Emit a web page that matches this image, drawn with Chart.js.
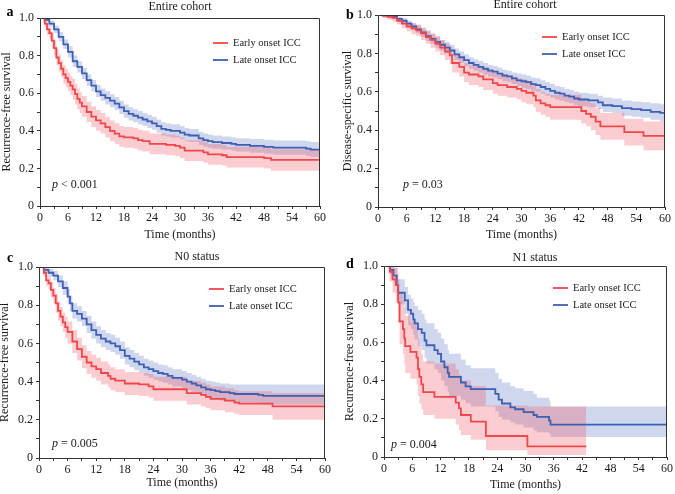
<!DOCTYPE html>
<html>
<head>
<meta charset="utf-8">
<script src="https://cdn.jsdelivr.net/npm/chart.js@4/dist/chart.umd.min.js"></script>
<style>
  body { margin: 0; background: #fff; }
  #fig { position: relative; width: 675px; height: 494px; }
  #fig canvas { position: absolute; }
</style>
</head>
<body>
<div id="fig">
  <canvas id="pa" width="337" height="247" style="left:0;top:0"></canvas>
  <canvas id="pb" width="338" height="247" style="left:337px;top:0"></canvas>
  <canvas id="pc" width="337" height="247" style="left:0;top:247px"></canvas>
  <canvas id="pd" width="338" height="247" style="left:337px;top:247px"></canvas>
</div>
<script>
// rows: [month, survival, lower CI, upper CI]
const seriesNames = ["Early onset ICC", "Late onset ICC"];
const xTicks = [0, 6, 12, 18, 24, 30, 36, 42, 48, 54, 60];
const yTicks = [0, 0.2, 0.4, 0.6, 0.8, 1.0];

// a: entire cohort, recurrence-free
const aEarly = [
  [0, 1, 1, 1], [1, 0.97, 0.95, 0.99], [1.5, 0.94, 0.91, 0.97], [2, 0.92, 0.89, 0.95],
  [2.5, 0.88, 0.84, 0.92], [3, 0.84, 0.80, 0.88], [3.5, 0.79, 0.75, 0.835], [4, 0.76, 0.715, 0.805],
  [4.5, 0.73, 0.685, 0.775], [5, 0.70, 0.65, 0.75], [5.5, 0.68, 0.63, 0.73], [6, 0.66, 0.61, 0.71],
  [6.5, 0.64, 0.59, 0.69], [7, 0.62, 0.565, 0.675], [7.5, 0.595, 0.54, 0.65], [8, 0.57, 0.515, 0.625],
  [8.5, 0.55, 0.495, 0.605], [9, 0.53, 0.475, 0.585], [10, 0.50, 0.445, 0.555], [11, 0.475, 0.42, 0.53],
  [12, 0.455, 0.40, 0.51], [13, 0.44, 0.385, 0.495], [14, 0.42, 0.365, 0.475], [15, 0.40, 0.345, 0.455],
  [16, 0.385, 0.33, 0.44], [17, 0.37, 0.315, 0.425], [18, 0.365, 0.31, 0.42], [20, 0.36, 0.305, 0.415],
  [21, 0.35, 0.295, 0.405], [22, 0.345, 0.29, 0.40], [23.5, 0.33, 0.275, 0.385], [27, 0.325, 0.27, 0.38],
  [29, 0.32, 0.265, 0.375], [30, 0.31, 0.255, 0.365], [31, 0.295, 0.24, 0.35], [35, 0.285, 0.23, 0.34],
  [36, 0.275, 0.22, 0.33], [39, 0.27, 0.215, 0.325], [40, 0.26, 0.205, 0.315], [48, 0.255, 0.20, 0.31],
  [49.5, 0.245, 0.188, 0.302], [60, 0.245, 0.188, 0.302]
];
const aLate = [
  [0, 1, 1, 1], [1, 0.99, 0.98, 1], [2, 0.97, 0.955, 0.985], [3, 0.94, 0.92, 0.96],
  [4, 0.90, 0.875, 0.925], [5, 0.86, 0.835, 0.885], [6, 0.82, 0.79, 0.85], [7, 0.77, 0.74, 0.80],
  [8, 0.74, 0.71, 0.77], [9, 0.705, 0.675, 0.735], [10, 0.67, 0.64, 0.70], [11, 0.64, 0.61, 0.67],
  [12, 0.61, 0.58, 0.645], [13, 0.59, 0.56, 0.625], [14, 0.575, 0.54, 0.61], [15, 0.56, 0.525, 0.595],
  [16, 0.545, 0.51, 0.58], [17, 0.525, 0.49, 0.56], [18, 0.505, 0.47, 0.54], [19, 0.49, 0.455, 0.525],
  [20, 0.48, 0.445, 0.515], [21, 0.47, 0.435, 0.505], [22, 0.46, 0.425, 0.495], [23, 0.45, 0.415, 0.485],
  [24, 0.44, 0.405, 0.475], [25, 0.425, 0.39, 0.46], [26, 0.41, 0.375, 0.445], [27, 0.405, 0.37, 0.44],
  [28, 0.40, 0.365, 0.435], [30, 0.39, 0.355, 0.425], [31, 0.38, 0.345, 0.415], [32, 0.375, 0.34, 0.41],
  [34, 0.36, 0.325, 0.395], [35, 0.35, 0.315, 0.385], [36, 0.345, 0.31, 0.38], [37, 0.34, 0.305, 0.375],
  [39, 0.335, 0.30, 0.37], [41, 0.33, 0.295, 0.365], [42, 0.325, 0.29, 0.36], [45, 0.32, 0.283, 0.357],
  [48, 0.315, 0.278, 0.352], [50, 0.31, 0.272, 0.348], [57, 0.305, 0.266, 0.344], [58, 0.30, 0.26, 0.34],
  [60, 0.30, 0.26, 0.34]
];

// b: entire cohort, disease-specific
const bEarly = [
  [0, 1, 1, 1], [1, 0.995, 0.985, 1], [2, 0.99, 0.975, 1], [3, 0.985, 0.965, 0.995],
  [4, 0.97, 0.95, 0.985], [5, 0.955, 0.93, 0.975], [6, 0.94, 0.915, 0.965], [7, 0.93, 0.90, 0.955],
  [8, 0.92, 0.89, 0.95], [9, 0.905, 0.87, 0.935], [10, 0.885, 0.85, 0.92], [11, 0.87, 0.83, 0.905],
  [12, 0.85, 0.81, 0.89], [13, 0.83, 0.79, 0.87], [14, 0.81, 0.765, 0.85], [15, 0.79, 0.745, 0.835],
  [15.5, 0.75, 0.70, 0.80], [17, 0.73, 0.68, 0.78], [18, 0.70, 0.65, 0.75], [19, 0.69, 0.635, 0.74],
  [21, 0.68, 0.625, 0.735], [22, 0.665, 0.61, 0.72], [24, 0.645, 0.59, 0.70], [25, 0.635, 0.58, 0.69],
  [27, 0.625, 0.57, 0.68], [29, 0.615, 0.56, 0.67], [30, 0.605, 0.545, 0.665], [31, 0.595, 0.535, 0.655],
  [32.5, 0.58, 0.52, 0.64], [33, 0.555, 0.495, 0.615], [34, 0.54, 0.48, 0.60], [35, 0.53, 0.47, 0.59],
  [36, 0.52, 0.455, 0.585], [42.5, 0.50, 0.435, 0.565], [43.5, 0.485, 0.42, 0.55], [44.5, 0.47, 0.40, 0.54],
  [45.5, 0.445, 0.375, 0.515], [46.5, 0.42, 0.35, 0.49], [51.5, 0.39, 0.32, 0.46], [55.5, 0.37, 0.295, 0.445],
  [60, 0.37, 0.295, 0.445]
];
const bLate = [
  [0, 1, 1, 1], [2, 0.995, 0.99, 1], [3, 0.99, 0.98, 1], [4, 0.98, 0.97, 0.99],
  [5, 0.97, 0.955, 0.985], [6, 0.955, 0.94, 0.97], [7, 0.94, 0.92, 0.96], [8, 0.925, 0.905, 0.945],
  [9, 0.91, 0.885, 0.93], [10, 0.89, 0.865, 0.915], [11, 0.875, 0.85, 0.90], [12, 0.86, 0.83, 0.885],
  [13, 0.845, 0.815, 0.87], [14, 0.83, 0.80, 0.86], [15, 0.815, 0.785, 0.845], [16, 0.795, 0.765, 0.825],
  [17, 0.78, 0.75, 0.81], [18, 0.765, 0.735, 0.795], [19, 0.75, 0.72, 0.78], [20, 0.74, 0.71, 0.77],
  [21, 0.73, 0.70, 0.76], [22, 0.72, 0.69, 0.75], [23, 0.71, 0.68, 0.74], [24, 0.705, 0.675, 0.735],
  [25, 0.695, 0.665, 0.725], [26, 0.685, 0.655, 0.715], [27, 0.68, 0.65, 0.71], [28, 0.67, 0.64, 0.70],
  [29, 0.66, 0.63, 0.695], [30, 0.655, 0.62, 0.69], [31, 0.65, 0.615, 0.685], [32, 0.64, 0.605, 0.675],
  [33, 0.635, 0.60, 0.67], [34, 0.625, 0.59, 0.66], [35, 0.615, 0.58, 0.65], [36, 0.605, 0.57, 0.64],
  [37, 0.595, 0.56, 0.63], [38, 0.59, 0.555, 0.625], [39, 0.58, 0.545, 0.615], [40, 0.575, 0.54, 0.61],
  [41, 0.565, 0.53, 0.60], [42, 0.56, 0.525, 0.595], [44, 0.555, 0.52, 0.59], [46, 0.545, 0.51, 0.58],
  [47, 0.53, 0.495, 0.57], [49, 0.525, 0.49, 0.565], [51, 0.515, 0.475, 0.555], [53, 0.51, 0.47, 0.55],
  [55, 0.505, 0.465, 0.545], [57, 0.495, 0.455, 0.54], [59, 0.49, 0.445, 0.535], [60, 0.49, 0.445, 0.535]
];

// c: N0 status, recurrence-free
const cEarly = [
  [0, 1, 1, 1], [1, 0.97, 0.95, 0.99], [1.5, 0.93, 0.90, 0.96], [2, 0.915, 0.88, 0.95],
  [2.5, 0.88, 0.84, 0.92], [3, 0.85, 0.81, 0.89], [3.5, 0.81, 0.76, 0.86], [4, 0.77, 0.72, 0.82],
  [4.5, 0.74, 0.69, 0.79], [5, 0.71, 0.66, 0.76], [5.5, 0.685, 0.63, 0.74], [6, 0.66, 0.60, 0.715],
  [7, 0.61, 0.55, 0.67], [8, 0.57, 0.51, 0.63], [9, 0.53, 0.47, 0.59], [10, 0.50, 0.44, 0.56],
  [11, 0.48, 0.42, 0.54], [12, 0.465, 0.405, 0.525], [13, 0.445, 0.385, 0.505], [14.5, 0.43, 0.37, 0.49],
  [15, 0.415, 0.355, 0.475], [16, 0.405, 0.345, 0.465], [18, 0.39, 0.33, 0.45], [21, 0.385, 0.325, 0.445],
  [23, 0.375, 0.315, 0.44], [24, 0.36, 0.30, 0.425], [31, 0.34, 0.28, 0.405], [34, 0.33, 0.27, 0.395],
  [35, 0.32, 0.26, 0.385], [36, 0.31, 0.25, 0.375], [39, 0.30, 0.24, 0.365], [41, 0.29, 0.23, 0.355],
  [42, 0.285, 0.225, 0.35], [49, 0.27, 0.20, 0.34], [60, 0.27, 0.20, 0.34]
];
const cLate = [
  [0, 1, 1, 1], [1, 0.985, 0.97, 1], [2, 0.97, 0.95, 0.99], [3, 0.955, 0.93, 0.98],
  [4, 0.925, 0.895, 0.955], [5, 0.89, 0.855, 0.925], [6, 0.845, 0.805, 0.885], [6.5, 0.81, 0.77, 0.85],
  [7, 0.77, 0.73, 0.81], [8, 0.755, 0.715, 0.795], [9, 0.73, 0.69, 0.77], [10, 0.70, 0.655, 0.745],
  [11, 0.67, 0.625, 0.715], [12, 0.645, 0.60, 0.69], [13, 0.625, 0.58, 0.67], [14, 0.61, 0.565, 0.655],
  [15, 0.60, 0.555, 0.645], [16, 0.585, 0.54, 0.63], [17, 0.565, 0.52, 0.61], [18, 0.535, 0.49, 0.58],
  [19, 0.52, 0.475, 0.565], [20, 0.505, 0.46, 0.55], [21, 0.49, 0.445, 0.535], [22, 0.475, 0.43, 0.52],
  [23, 0.465, 0.42, 0.51], [24, 0.455, 0.41, 0.50], [25, 0.445, 0.40, 0.49], [26, 0.44, 0.395, 0.485],
  [27, 0.43, 0.385, 0.475], [28, 0.42, 0.375, 0.465], [30, 0.41, 0.365, 0.455], [31, 0.40, 0.355, 0.445],
  [32, 0.39, 0.345, 0.435], [33, 0.38, 0.335, 0.425], [34, 0.37, 0.325, 0.415], [35, 0.36, 0.315, 0.405],
  [36, 0.355, 0.31, 0.40], [37, 0.35, 0.305, 0.395], [38, 0.345, 0.30, 0.39], [40, 0.34, 0.295, 0.385],
  [41, 0.335, 0.29, 0.385], [46, 0.33, 0.285, 0.385], [47, 0.325, 0.28, 0.385], [60, 0.325, 0.28, 0.385]
];

// d: N1 status, recurrence-free
const dEarly = [
  [0, 1, 1, 1], [1.2, 0.97, 0.92, 1], [1.8, 0.93, 0.86, 1], [2.5, 0.90, 0.81, 0.99],
  [3.0, 0.81, 0.70, 0.93], [3.3, 0.71, 0.59, 0.86], [4.0, 0.67, 0.54, 0.82], [4.3, 0.62, 0.49, 0.78],
  [4.5, 0.58, 0.44, 0.74], [5.6, 0.55, 0.41, 0.71], [6.9, 0.52, 0.38, 0.68], [7.2, 0.46, 0.32, 0.62],
  [7.5, 0.42, 0.28, 0.58], [7.9, 0.38, 0.25, 0.54], [8.3, 0.34, 0.22, 0.50], [10.7, 0.315, 0.20, 0.49],
  [15.2, 0.285, 0.17, 0.46], [15.9, 0.255, 0.14, 0.43], [16.3, 0.22, 0.115, 0.40], [18.4, 0.185, 0.09, 0.37],
  [21.6, 0.11, 0.035, 0.27], [30.4, 0.056, 0.01, 0.265], [42.9, 0.056, 0.01, 0.265]
];
const dLate = [
  [0, 1, 1, 1], [1.3, 0.98, 0.95, 1], [2, 0.95, 0.91, 0.99], [2.7, 0.90, 0.85, 0.96],
  [3, 0.86, 0.80, 0.93], [4.4, 0.82, 0.75, 0.89], [5.1, 0.77, 0.69, 0.85], [5.7, 0.75, 0.67, 0.83],
  [6.2, 0.72, 0.64, 0.81], [6.5, 0.70, 0.615, 0.79], [7.2, 0.67, 0.58, 0.77], [8, 0.65, 0.56, 0.75],
  [8.6, 0.61, 0.52, 0.72], [9, 0.585, 0.49, 0.70], [10.7, 0.56, 0.46, 0.67], [11.4, 0.54, 0.44, 0.65],
  [12.1, 0.50, 0.40, 0.62], [12.8, 0.47, 0.37, 0.59], [13.5, 0.44, 0.34, 0.56], [13.8, 0.42, 0.32, 0.54],
  [16.3, 0.39, 0.30, 0.51], [17.3, 0.37, 0.28, 0.48], [18.4, 0.355, 0.265, 0.465], [23.6, 0.33, 0.24, 0.44],
  [24.3, 0.30, 0.21, 0.41], [25, 0.28, 0.195, 0.39], [26.8, 0.26, 0.18, 0.37], [27.8, 0.25, 0.17, 0.36],
  [29.6, 0.235, 0.155, 0.345], [31.7, 0.22, 0.14, 0.33], [32.4, 0.21, 0.13, 0.31], [35, 0.19, 0.12, 0.295],
  [35.3, 0.17, 0.105, 0.265], [60, 0.17, 0.105, 0.265]
];

const RED = "#f0474c";
const RED_BAND = "rgba(245, 70, 80, 0.27)";
const BLUE = "#3e5fb4";
const BLUE_BAND = "rgba(70, 100, 190, 0.26)";
const FONT = "'Liberation Serif', 'Times New Roman', serif";

Chart.defaults.font.family = FONT;
Chart.defaults.color = "#1a1a1a";

function kmSets(rows, lineColor, bandColor) {
  const pts = (k) => rows.map((r) => ({ x: r[0], y: r[k] }));
  const base = { pointRadius: 0, stepped: true, borderWidth: 0, borderColor: "rgba(0,0,0,0)" };
  return {
    line: { data: pts(1), borderColor: lineColor, borderWidth: 1.8, pointRadius: 0, stepped: true, fill: false, order: 0 },
    lo: Object.assign({ data: pts(2), fill: false, order: 1 }, base),
    hi: Object.assign({ data: pts(3), fill: "-1", backgroundColor: bandColor, order: 1 }, base),
  };
}

// frame, legend, title, panel letter, p value
const decor = {
  id: "decor",
  afterDraw(chart, args, o) {
    const { ctx, chartArea: a } = chart;
    ctx.save();
    ctx.strokeStyle = "#333";
    ctx.lineWidth = 1;
    ctx.beginPath();
    ctx.moveTo(Math.round(a.left) + 0.5, Math.round(a.top) + 0.5);
    ctx.lineTo(Math.round(a.right) - 0.5, Math.round(a.top) + 0.5);
    ctx.lineTo(Math.round(a.right) - 0.5, Math.round(a.bottom) + 0.5);
    ctx.stroke();

    // legend
    ctx.font = "10.5px " + FONT;
    ctx.textBaseline = "middle";
    ctx.textAlign = "left";
    [RED, BLUE].forEach((c, i) => {
      const y = a.top + o.legY + i * 17;
      const x = a.left + o.legX;
      ctx.strokeStyle = c;
      ctx.lineWidth = 1.8;
      ctx.beginPath();
      ctx.moveTo(x, y);
      ctx.lineTo(x + 15, y);
      ctx.stroke();
      ctx.fillStyle = "#1a1a1a";
      ctx.fillText(seriesNames[i], x + 20, y);
    });

    // p value
    ctx.font = "italic 12px " + FONT;
    const px = a.left + o.pX, py = a.bottom + o.pY;
    ctx.fillText("p", px, py);
    const w = ctx.measureText("p").width;
    ctx.font = "12px " + FONT;
    ctx.fillText(o.pText, px + w, py);

    // title
    ctx.textAlign = "center";
    ctx.fillText(o.title, o.titleX, o.titleY);

    // panel letter
    ctx.font = "bold 14px " + FONT;
    ctx.fillStyle = "#000";
    ctx.fillText(o.letter, o.letterX, o.letterY);
    ctx.restore();
  },
};

function makePanel(id, early, late, cfg) {
  const e = kmSets(early, RED, RED_BAND);
  const l = kmSets(late, BLUE, BLUE_BAND);
  new Chart(document.getElementById(id), {
    type: "line",
    data: { datasets: [e.line, l.line, e.lo, e.hi, l.lo, l.hi] },
    options: {
      responsive: false,
      animation: false,
      layout: { padding: cfg.pad },
      plugins: {
        legend: { display: false },
        tooltip: { enabled: false },
        decor: cfg,
      },
      scales: {
        x: {
          type: "linear",
          min: 0,
          max: 60,
          afterFit: (s) => { s.height = cfg.xh; },
          ticks: {
            stepSize: 3,
            autoSkip: false,
            maxRotation: 0,
            padding: 2,
            font: { size: 12 },
            callback: (v) => (xTicks.includes(v) ? String(v) : ""),
          },
          grid: { drawOnChartArea: false, tickLength: 3, tickColor: "#333" },
          border: { color: "#333", width: 1 },
          title: { display: true, text: "Time (months)", font: { size: 12 }, padding: { top: 0, bottom: cfg.xtPad } },
        },
        y: {
          min: 0,
          max: 1,
          afterFit: (s) => { s.width = cfg.yw; },
          ticks: {
            stepSize: 0.1,
            autoSkip: false,
            padding: 3,
            font: { size: 12 },
            callback: (v) => {
              const k = Math.round(v * 10) / 10;
              if (!yTicks.some((t) => Math.abs(t - k) < 1e-6)) return "";
              return k === 0 ? "0" : k.toFixed(1);
            },
          },
          grid: { drawOnChartArea: false, tickLength: 3, tickColor: "#333" },
          border: { color: "#333", width: 1 },
          title: { display: true, text: cfg.yTitle, font: { size: 12 }, padding: { top: 0, bottom: 0 } },
        },
      },
    },
    plugins: [decor],
  });
}

makePanel("pa", aEarly, aLate, {
  pad: { left: 0, top: 18, right: 17, bottom: 0 }, yw: 40, xh: 41, xtPad: 5,
  yTitle: "Recurrence-free survival", title: "Entire cohort", titleX: 180, titleY: 7,
  letter: "a", letterX: 10, letterY: 12, legX: 173, legY: 25, pX: 12, pY: -21, pText: " < 0.001",
});
makePanel("pb", bEarly, bLate, {
  pad: { left: 4, top: 15, right: 10, bottom: 0 }, yw: 37, xh: 40, xtPad: 5,
  yTitle: "Disease-specific survival", title: "Entire cohort", titleX: 188, titleY: 5,
  letter: "b", letterX: 13, letterY: 15, legX: 164, legY: 22, pX: 25, pY: -22, pText: " = 0.03",
});
makePanel("pc", cEarly, cLate, {
  pad: { left: -2, top: 20, right: 12, bottom: 0 }, yw: 41, xh: 36, xtPad: 4,
  yTitle: "Recurrence-free survival", title: "N0 status", titleX: 197, titleY: 10,
  letter: "c", letterX: 10, letterY: 11, legX: 170, legY: 22, pX: 13, pY: -14, pText: " = 0.005",
});
makePanel("pd", dEarly, dLate, {
  pad: { left: 6, top: 19, right: 5, bottom: 0 }, yw: 41, xh: 37, xtPad: 2,
  yTitle: "Recurrence-free survival", title: "N1 status", titleX: 198, titleY: 11,
  letter: "d", letterX: 13, letterY: 17, legX: 169, legY: 22, pX: 7, pY: -12, pText: " = 0.004",
});
</script>
</body>
</html>
